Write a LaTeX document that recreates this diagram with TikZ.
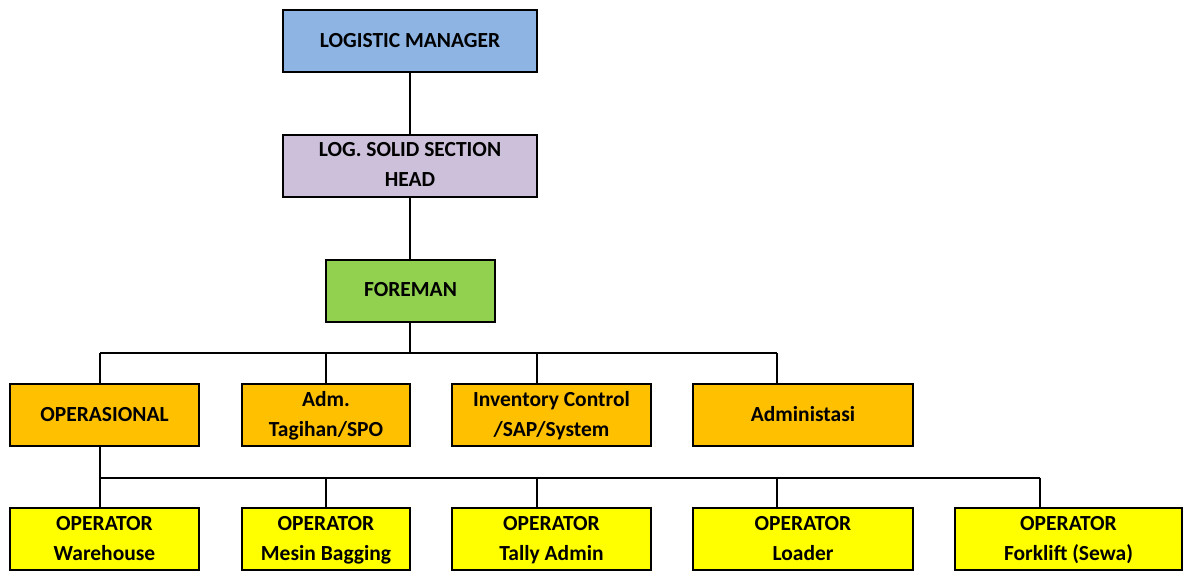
\documentclass[tikz,border=0pt]{standalone}
\usepackage{fontspec}
\setmainfont{Carlito}
\definecolor{lmblue}{HTML}{8DB4E2}
\definecolor{lavend}{HTML}{CCC0DA}
\definecolor{fgreen}{HTML}{92D050}
\definecolor{orng}{HTML}{FFC000}
\definecolor{yell}{HTML}{FFFF00}
\newcommand{\bxl}[1]{#1\strut}
\begin{document}
\begin{tikzpicture}[x=1pt,y=-1pt,
  box/.style={draw=black, line width=2pt, minimum height=62pt, align=center,
    font=\fontsize{21.5}{30}\selectfont\bfseries, inner sep=0pt},
  conn/.style={line width=2pt}]
\useasboundingbox (0,0) rectangle (1184,571);
% boxes
\node[box, fill=lmblue, minimum width=254pt] (lm) at (410,41) {\bxl{LOGISTIC MANAGER}};
\node[box, fill=lavend, minimum width=254pt] (lssh) at (410,165.5) {\bxl{LOG. SOLID SECTION}\\\bxl{HEAD}};
\node[box, fill=fgreen, minimum width=169pt] (fore) at (410.5,290.5) {\bxl{FOREMAN}};
\node[box, fill=orng, minimum width=189pt] (ops) at (104.5,415) {\bxl{OPERASIONAL}};
\node[box, fill=orng, minimum width=168pt] (adm) at (326,415) {\bxl{Adm.}\\\bxl{Tagihan/SPO}};
\node[box, fill=orng, minimum width=199pt] (inv) at (551.5,415) {\bxl{Inventory Control}\\\bxl{/SAP/System}};
\node[box, fill=orng, minimum width=220pt] (admin) at (803,415) {\bxl{Administasi}};
\node[box, fill=yell, minimum width=189pt] (wh) at (104.5,539) {\bxl{OPERATOR}\\\bxl{Warehouse}};
\node[box, fill=yell, minimum width=168pt] (mb) at (326,539) {\bxl{OPERATOR}\\\bxl{Mesin Bagging}};
\node[box, fill=yell, minimum width=199pt] (ta) at (551.5,539) {\bxl{OPERATOR}\\\bxl{Tally Admin}};
\node[box, fill=yell, minimum width=220pt] (ld) at (803,539) {\bxl{OPERATOR}\\\bxl{Loader}};
\node[box, fill=yell, minimum width=227pt] (fl) at (1068.5,539) {\bxl{OPERATOR}\\\bxl{Forklift (Sewa)}};
% bus coordinates
\coordinate (t1) at (100,353);
\coordinate (t2) at (326,353);
\coordinate (t3) at (537,353);
\coordinate (t4) at (777,353);
\coordinate (u1) at (100,477.5);
\coordinate (u2) at (326,477.5);
\coordinate (u3) at (537,477.5);
\coordinate (u4) at (777,477.5);
\coordinate (u5) at (1040,477.5);
% connectors
\draw[conn] (lm.south) -- (lssh.north);
\draw[conn] (lssh.south) -- (lssh.south |- fore.north);
\draw[conn] (lssh.south |- fore.south) -- (lssh.south |- t1);
\draw[conn] (t1) -- (t4);
\draw[conn] (t1) -- (t1 |- ops.north);
\draw[conn] (t2) -- (t2 |- adm.north);
\draw[conn] (t3) -- (t3 |- inv.north);
\draw[conn] (t4) -- (t4 |- admin.north);
\draw[conn] (u1 |- ops.south) -- (u1);
\draw[conn] (u1) -- (u5);
\draw[conn] (u1) -- (u1 |- wh.north);
\draw[conn] (u2) -- (u2 |- mb.north);
\draw[conn] (u3) -- (u3 |- ta.north);
\draw[conn] (u4) -- (u4 |- ld.north);
\draw[conn] (u5) -- (u5 |- fl.north);
\end{tikzpicture}
\end{document}
